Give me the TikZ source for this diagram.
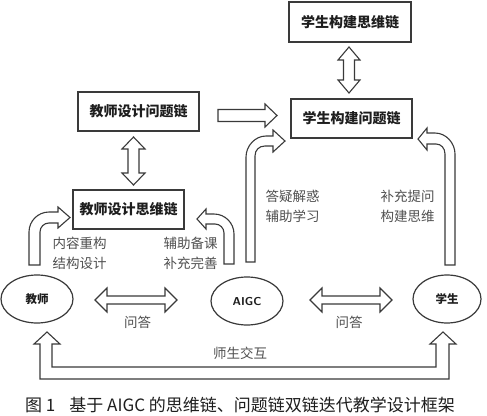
\documentclass[tikz,border=0pt]{standalone}
\usepackage{fontspec}
\newfontfamily\cjk{Noto Sans CJK SC}
\usetikzlibrary{positioning}
\definecolor{ln}{HTML}{3A3A3A}
\definecolor{tx}{HTML}{1E1E1E}
\definecolor{lb}{HTML}{505050}
\tikzset{
  boxnode/.style={draw=ln, line width=1.3pt, minimum height=39pt, inner sep=0pt,
    font={\cjk\bfseries\fontsize{14}{16}\selectfont}, text=tx},
  ellnode/.style={draw=ln, line width=1.2pt, ellipse, inner sep=0pt,
    font={\cjk\bfseries\fontsize{11.5}{13}\selectfont}, text=tx},
  lbl/.style={font={\cjk\fontsize{13.5}{20}\selectfont}, text=lb, align=left, inner sep=0pt},
  blockarrow/.style={draw=ln, line width=1.1pt, fill=white, line join=miter},
}
\usetikzlibrary{shapes.geometric}
\begin{document}
\begin{tikzpicture}[x=1pt,y=-1pt]
\useasboundingbox (0,0) rectangle (487,415);
\fill[white] (0,0) rectangle (487,415);

% boxes
\node[boxnode, minimum width=122pt, minimum height=40pt] (sthink) at (350,22) {学生构建思维链};
\node[boxnode, minimum width=121pt] (sq) at (351.5,118.5) {学生构建问题链};
\node[boxnode, minimum width=121pt] (tq) at (138.5,111.5) {教师设计问题链};
\node[boxnode, minimum width=111pt] (tthink) at (128.5,209.5) {教师设计思维链};

% ellipses
\node[ellnode, minimum width=72pt, minimum height=48pt] (teacher) at (37,299) {教师};
\node[ellnode, minimum width=72pt, minimum height=48pt] (aigc) at (247,301) {\sffamily\bfseries AIGC};
\node[ellnode, minimum width=68pt, minimum height=48pt] (student) at (447,299) {学生};

% labels
\node[lbl] (l1) at (79.5,253) {内容重构\\结构设计};
\node[lbl] (l2) at (190.5,253) {辅助备课\\补充完善};
\node[lbl] (l3) at (292.5,206) {答疑解惑\\辅助学习};
\node[lbl] (l4) at (407.5,206) {补充提问\\构建思维};
\node[lbl] (qa1) at (137.5,322) {问答};
\node[lbl] (qa2) at (349,322) {问答};
\node[lbl] (hu) at (240,353) {师生交互};

% vertical double arrow: student chains
\draw[blockarrow] (349,47) -- (360,60) -- (354.5,60) -- (354.5,80) -- (360,80) -- (349,93)
  -- (338,80) -- (343.5,80) -- (343.5,60) -- (338,60) -- cycle;
% vertical double arrow: teacher chains
\draw[blockarrow] (133.5,137) -- (145,149) -- (139,149) -- (139,173) -- (145,173) -- (133.5,185)
  -- (122,173) -- (128,173) -- (128,149) -- (122,149) -- cycle;
% right arrow teacher question chain -> student question chain
\draw[blockarrow] (218,109.5) -- (265,109.5) -- (265,104) -- (277,115.5) -- (265,127) -- (265,121.5)
  -- (218,121.5) -- cycle;

% horizontal double arrows
\draw[blockarrow] (95,300) -- (107,288) -- (107,296) -- (165,296) -- (165,288) -- (177,300)
  -- (165,312) -- (165,304) -- (107,304) -- (107,312) -- cycle;
\draw[blockarrow] (310,300) -- (322,288) -- (322,296) -- (380,296) -- (380,288) -- (392,300)
  -- (380,312) -- (380,304) -- (322,304) -- (322,312) -- cycle;

% curved arrow teacher -> teacher thinking chain
\draw[blockarrow] (29,265) -- (29,232) .. controls (29,221) and (38,212) .. (49,212) -- (58,212)
  -- (58,207) -- (70,217.5) -- (58,228) -- (58,223) -- (49,223)
  .. controls (44,223) and (40,227) .. (40,232) -- (40,265) -- cycle;
% curved arrow AIGC -> teacher thinking chain
\draw[blockarrow] (234,264) -- (234,234) .. controls (234,223) and (225,214) .. (214,214) -- (206,214)
  -- (206,209) -- (197,219) -- (206,229) -- (206,224) -- (215,224)
  .. controls (220,224) and (224,228) .. (224,233) -- (224,264) -- cycle;
% curved arrow AIGC -> student question chain
\draw[blockarrow] (246,262) -- (246,157) .. controls (246,146) and (255,136) .. (266,136) -- (273,136)
  -- (273,130) -- (285,141) -- (273,152) -- (273,146) -- (265,146)
  .. controls (259,146) and (255,150) .. (255,156) -- (255,262) -- cycle;
% curved arrow student -> student question chain
\draw[blockarrow] (455,265) -- (455,154) .. controls (455,143) and (446,133) .. (435,133) -- (427,133)
  -- (427,128) -- (418,139) -- (427,150) -- (427,144) -- (436,144)
  .. controls (441,144) and (445,148) .. (445,154) -- (445,265) -- cycle;

% bottom U arrow teacher <-> student
\draw[blockarrow] (40,379) -- (40,344) -- (34,344) -- (47,332) -- (60,344) -- (52,344) -- (52,367)
  -- (436,367) -- (436,344) -- (430,344) -- (443,332) -- (456,344) -- (449,344) -- (449,379) -- cycle;

% caption
\node[anchor=west, inner sep=0pt, text=tx, font={\cjk\fontsize{17}{20}\selectfont}] (cap) at (25,405)
  {图 1\hspace{14pt}基于 AIGC 的思维链、问题链双链迭代教学设计框架};
\end{tikzpicture}
\end{document}
